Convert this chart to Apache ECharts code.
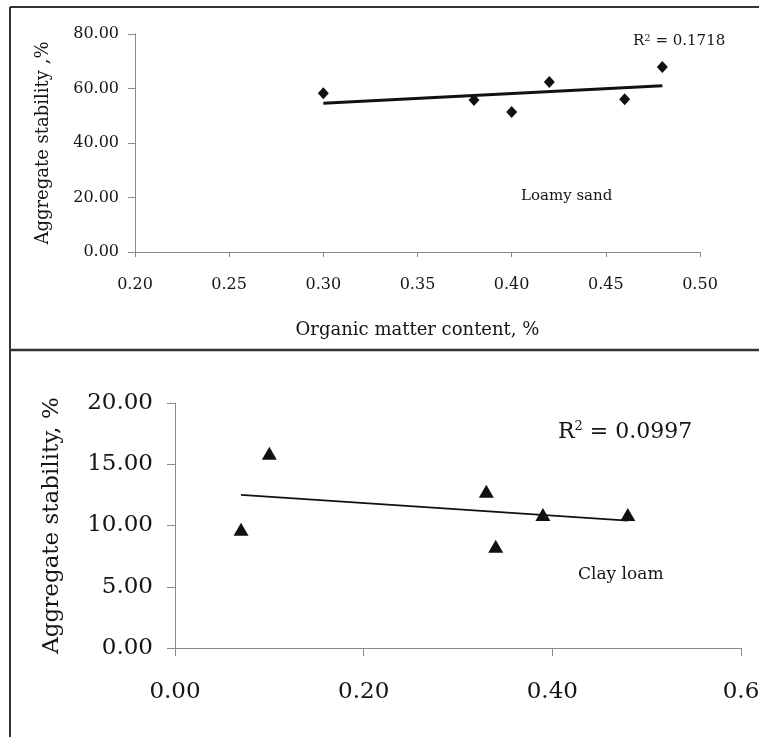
<!DOCTYPE html>
<html>
<head>
<meta charset="utf-8">
<script src="https://cdn.jsdelivr.net/npm/echarts@6/dist/echarts.min.js"></script>
<style>
  html, body { margin: 0; padding: 0; background: #fff; }
  #chart { width: 759px; height: 737px; }
</style>
</head>
<body>
<div id="chart"></div>
<script>
// Loamy sand (top panel)
const sandOM = [0.30, 0.38, 0.40, 0.42, 0.46, 0.48];
const sandStab = [58.3, 55.8, 51.4, 62.4, 56.1, 67.9];
const sandTrend = [[0.30, 54.6], [0.48, 61.0]];
const sandR2 = '0.1718';

// Clay loam (bottom panel)
const clayOM = [0.07, 0.10, 0.33, 0.34, 0.39, 0.48];
const clayStab = [9.7, 15.9, 12.8, 8.3, 10.9, 10.9];
const clayTrend = [[0.07, 12.5], [0.48, 10.4]];
const clayR2 = '0.0997';

const font = "'DejaVu Serif', 'Liberation Serif', serif";
const axisGrey = '#8a8a8a';
const ink = '#151515';

const chartDom = document.getElementById('chart');
const myChart = echarts.init(chartDom, null, { renderer: 'canvas' });

const pairs = (xs, ys) => xs.map((x, i) => [x, ys[i]]);

const option = {
    animation: false,
    textStyle: { fontFamily: font, color: ink },
    grid: [
        { left: 135, top: 34, width: 565, height: 218, containLabel: false, outerBoundsMode: 'none' },
        { left: 175, top: 403, width: 566, height: 245, containLabel: false, outerBoundsMode: 'none' },
    ],
    xAxis: [
        {
            gridIndex: 0, type: 'value', min: 0.2, max: 0.5, interval: 0.05,
            name: 'Organic matter content, %', nameLocation: 'middle', nameGap: 69,
            nameTextStyle: { fontSize: 18, fontFamily: font, color: ink },
            axisLine: { lineStyle: { color: axisGrey, width: 1 } },
            axisTick: { inside: false, length: 5, lineStyle: { color: axisGrey } },
            axisLabel: { fontSize: 16, margin: 25, color: ink, formatter: (v) => v.toFixed(2) },
            splitLine: { show: false },
        },
        {
            gridIndex: 1, type: 'value', min: 0, max: 0.6, interval: 0.2,
            axisLine: { lineStyle: { color: axisGrey, width: 1 } },
            axisTick: { length: 8, lineStyle: { color: axisGrey } },
            axisLabel: { fontSize: 23, margin: 33, color: ink,
                formatter: (v) => (Math.abs(v - 0.6) < 1e-9 ? '0.6' : v.toFixed(2)) },
            splitLine: { show: false },
        },
    ],
    yAxis: [
        {
            gridIndex: 0, type: 'value', min: 0, max: 80, interval: 20,
            name: 'Aggregate stability ,%', nameLocation: 'middle', nameGap: 83,
            nameTextStyle: { fontSize: 18, fontFamily: font, color: ink },
            axisLine: { show: true, lineStyle: { color: axisGrey, width: 1 } },
            axisTick: { show: true, length: 7, lineStyle: { color: axisGrey } },
            axisLabel: { fontSize: 16, margin: 16, color: ink, formatter: (v) => v.toFixed(2) },
            splitLine: { show: false },
        },
        {
            gridIndex: 1, type: 'value', min: 0, max: 20, interval: 5,
            name: 'Aggregate stability, %', nameLocation: 'middle', nameGap: 111,
            nameTextStyle: { fontSize: 23, fontFamily: font, color: ink },
            axisLine: { show: true, lineStyle: { color: axisGrey, width: 1 } },
            axisTick: { show: true, length: 8, lineStyle: { color: axisGrey } },
            axisLabel: { fontSize: 23, margin: 22, color: ink, formatter: (v) => v.toFixed(2) },
            splitLine: { show: false },
        },
    ],
    series: [
        {
            type: 'line', xAxisIndex: 0, yAxisIndex: 0, data: sandTrend,
            symbol: 'none', lineStyle: { color: '#111', width: 3 }, z: 2,
        },
        {
            type: 'scatter', xAxisIndex: 0, yAxisIndex: 0, data: pairs(sandOM, sandStab),
            symbol: 'diamond', symbolSize: [11, 12], itemStyle: { color: '#111', opacity: 1 }, z: 3,
        },
        {
            type: 'line', xAxisIndex: 1, yAxisIndex: 1, data: clayTrend,
            symbol: 'none', lineStyle: { color: '#111', width: 1.6 }, z: 2,
        },
        {
            type: 'scatter', xAxisIndex: 1, yAxisIndex: 1, data: pairs(clayOM, clayStab),
            symbol: 'triangle', symbolSize: [15, 13], itemStyle: { color: '#111', opacity: 1 }, z: 3,
        },
    ],
    graphic: [
        // panel frame
        { type: 'line', shape: { x1: 10, y1: 7, x2: 759, y2: 7 }, style: { stroke: '#333', lineWidth: 2 } },
        { type: 'line', shape: { x1: 10, y1: 7, x2: 10, y2: 737 }, style: { stroke: '#333', lineWidth: 2 } },
        { type: 'line', shape: { x1: 10, y1: 350, x2: 759, y2: 350 }, style: { stroke: '#333', lineWidth: 2.5 } },
        {
            type: 'text', left: 633, top: 33,
            style: {
                text: '{a|R}{s|2}{a| = ' + sandR2 + '}',
                rich: {
                    a: { fontSize: 15, fontFamily: font, fill: ink },
                    s: { fontSize: 10, fontFamily: font, fill: ink, verticalAlign: 'top', padding: [0, 0, 6, 0] },
                },
            },
        },
        {
            type: 'text', left: 521, top: 189,
            style: { text: 'Loamy sand', fontSize: 15, fontFamily: font, fill: ink },
        },
        {
            type: 'text', left: 558, top: 420,
            style: {
                text: '{a|R}{s|2}{a| = ' + clayR2 + '}',
                rich: {
                    a: { fontSize: 22, fontFamily: font, fill: ink },
                    s: { fontSize: 13, fontFamily: font, fill: ink, verticalAlign: 'top', padding: [0, 0, 12, 0] },
                },
            },
        },
        {
            type: 'text', left: 578, top: 566,
            style: { text: 'Clay loam', fontSize: 17, fontFamily: font, fill: ink },
        },
    ],
};

myChart.setOption(option);
</script>
</body>
</html>
